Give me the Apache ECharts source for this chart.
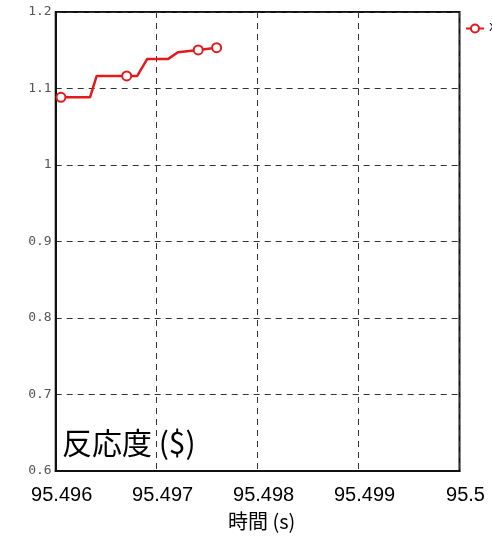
<!DOCTYPE html>
<html>
<head>
<meta charset="utf-8">
<script src="https://cdn.jsdelivr.net/npm/echarts@6/dist/echarts.min.js"></script>
<style>html,body{margin:0;padding:0;background:#fff}#c{width:492px;height:536px}</style>
</head>
<body>
<div id="c"></div>
<script>
// Data
const seriesName = 'X';
const timeValues = [95.496052, 95.49634, 95.496406, 95.496703, 95.496808, 95.496907, 95.497115, 95.497211, 95.497412, 95.497594];
const reactivityValues = [1.0885, 1.0885, 1.1165, 1.1165, 1.1165, 1.1387, 1.1387, 1.1474, 1.1504, 1.1534];
const markerShown = [true, false, false, true, false, false, false, false, true, true];
const xTicks = [95.496, 95.497, 95.498, 95.499, 95.5];
const yTicks = [0.6, 0.7, 0.8, 0.9, 1.0, 1.1, 1.2];
const xAxisTitle = '時間 (s)';
const yAxisTitle = '反応度 ($)';

const chart = echarts.init(document.getElementById('c'), null, {renderer: 'canvas'});
const data = timeValues.map((t, i) => markerShown[i]
  ? {value: [t, reactivityValues[i]]}
  : {value: [t, reactivityValues[i]], symbol: 'none'});

chart.setOption({
  animation: false,
  backgroundColor: '#fff',
  grid: {left: 55.7, right: 32.5, top: 12, bottom: 64, show: true, borderColor: '#111', borderWidth: 2, backgroundColor: 'transparent'},
  legend: {
    left: 465, top: 23, padding: 0, itemWidth: 18, itemHeight: 10, itemGap: 4,
    textStyle: {fontFamily: 'DejaVu Sans', fontSize: 11, color: '#000'},
    data: [seriesName]
  },
  xAxis: {
    type: 'value', min: xTicks[0], max: xTicks[xTicks.length - 1], interval: 0.001,
    name: xAxisTitle, nameLocation: 'middle', nameGap: 40,
    nameTextStyle: {fontFamily: 'Noto Sans CJK JP', fontSize: 20, color: '#000', padding: [0, 0, 0, 8]},
    axisLine: {show: true, lineStyle: {color: '#111', width: 2}},
    axisTick: {show: false},
    axisLabel: {fontFamily: 'Liberation Sans', fontSize: 20, color: '#000', margin: 14, padding: [0, 0, 0, 12],
      formatter: v => String(+v.toFixed(3))},
    splitLine: {show: true, lineStyle: {color: '#333', type: [6, 5], width: 1}}
  },
  yAxis: {
    type: 'value', min: yTicks[0], max: yTicks[yTicks.length - 1], interval: 0.1,
    axisLine: {show: true, lineStyle: {color: '#111', width: 2}},
    axisTick: {show: false},
    axisLabel: {fontFamily: 'DejaVu Sans Mono', fontSize: 13, color: '#555', margin: 4,
      formatter: v => String(+v.toFixed(1))},
    splitLine: {show: true, lineStyle: {color: '#333', type: [6, 5], width: 1}}
  },
  graphic: [{
    type: 'text', left: 62, top: 428,
    style: {text: yAxisTitle, fontFamily: 'Noto Sans CJK JP', fontSize: 30, fill: '#000'}
  }],
  series: [{
    name: seriesName, type: 'line', data: data,
    symbol: 'emptyCircle', symbolSize: 9,
    lineStyle: {color: '#e31a1c', width: 2.5},
    itemStyle: {color: '#e31a1c', borderWidth: 2.5},
    z: 5
  }]
});
</script>
</body>
</html>
